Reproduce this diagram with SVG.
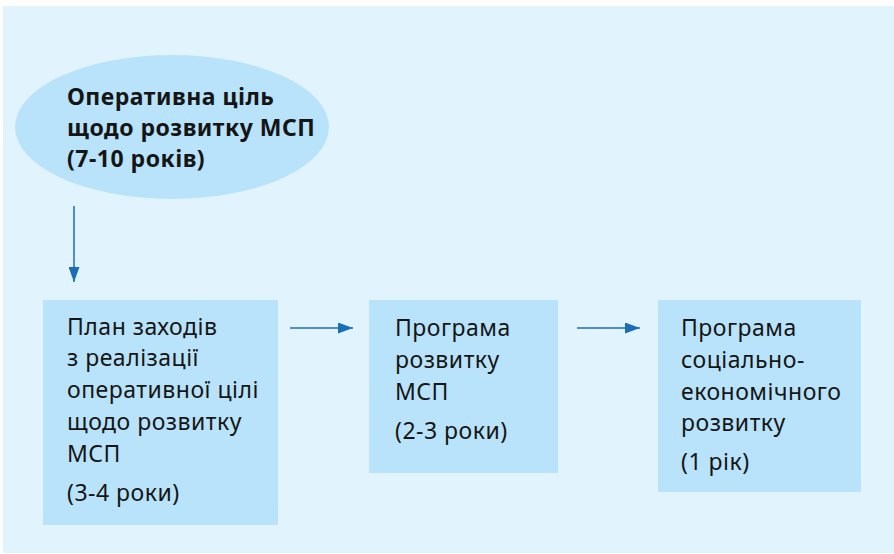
<svg xmlns="http://www.w3.org/2000/svg" width="894" height="554" viewBox="0 0 894 554">
<defs>
<style>
.bg{fill:#E1F3FD}
.nd{fill:#B8E3FA}
.t{font-family:"Noto Sans","DejaVu Sans",sans-serif;font-size:23px;letter-spacing:0.5px;fill:#151515}
.b{font-weight:bold}
.c{stroke:#1B6EB4;stroke-width:1.5;fill:none;marker-end:url(#ah)}
</style>
<marker id="ah" viewBox="0 0 15 11" refX="15" refY="5.5" markerWidth="15" markerHeight="11" markerUnits="userSpaceOnUse" orient="auto">
<path d="M0,0 L15,5.5 L0,11 z" fill="#1B6EB4"/>
</marker>
</defs>
<rect class="bg" x="3" y="6" width="891" height="547"/>
<g id="goal">
<ellipse class="nd" cx="172" cy="127" rx="157" ry="72"/>
<text class="t b" x="67" y="105">Оперативна ціль</text>
<text class="t b" x="67" y="136">щодо розвитку МСП</text>
<text class="t b" x="67" y="167">(7-10 років)</text>
</g>
<g id="plan">
<rect class="nd" x="43" y="300" width="235" height="225"/>
<text class="t" x="67" y="335">План заходів</text>
<text class="t" x="67" y="366">з реалізації</text>
<text class="t" x="67" y="398">оперативної цілі</text>
<text class="t" x="67" y="430">щодо розвитку</text>
<text class="t" x="67" y="462">МСП</text>
<text class="t" x="67" y="501">(3-4 роки)</text>
</g>
<g id="program">
<rect class="nd" x="369" y="300" width="189" height="173"/>
<text class="t" x="395" y="336">Програма</text>
<text class="t" x="395" y="368">розвитку</text>
<text class="t" x="395" y="400">МСП</text>
<text class="t" x="395" y="439">(2-3 роки)</text>
</g>
<g id="socio">
<rect class="nd" x="658" y="300" width="203" height="192"/>
<text class="t" x="681" y="336">Програма</text>
<text class="t" x="681" y="368">соціально-</text>
<text class="t" x="681" y="400">економічного</text>
<text class="t" x="681" y="431">розвитку</text>
<text class="t" x="681" y="470">(1 рік)</text>
</g>
<g id="connectors">
<line class="c" x1="74" y1="206" x2="74" y2="282"/>
<line class="c" x1="290" y1="328" x2="353" y2="328"/>
<line class="c" x1="577" y1="328" x2="640" y2="328"/>
</g>
</svg>
